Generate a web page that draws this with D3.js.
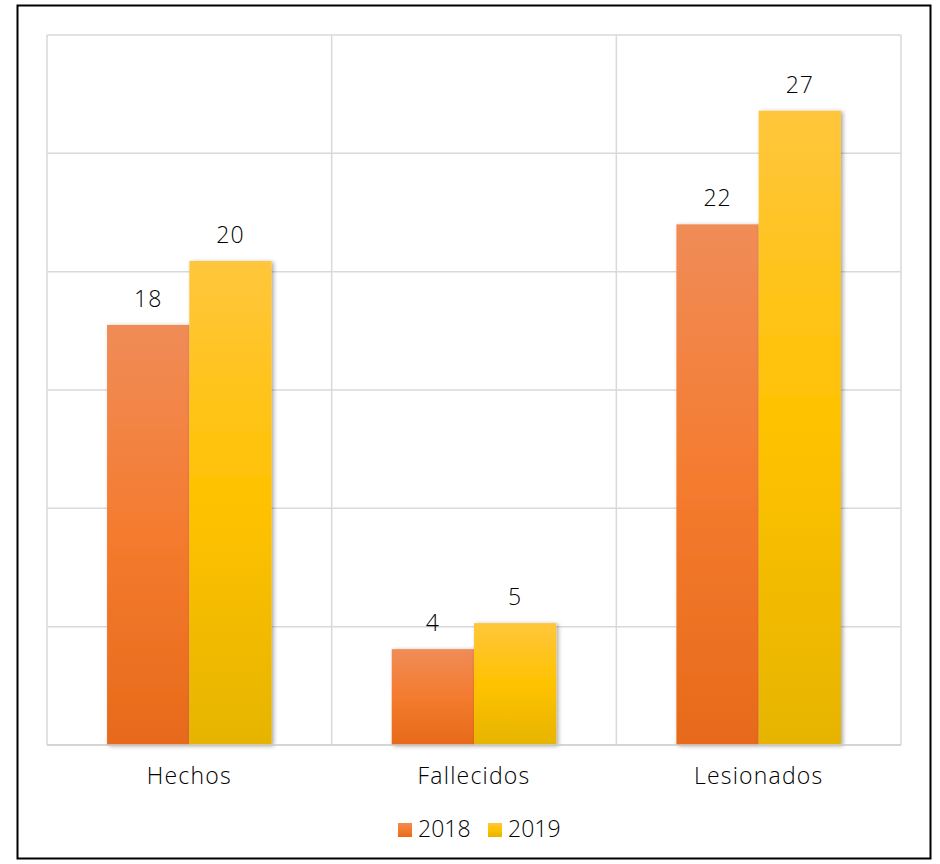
<!DOCTYPE html>
<html>
<head>
<meta charset="utf-8">
<script src="https://cdn.jsdelivr.net/npm/d3@7"></script>
<style>
  html, body { margin: 0; padding: 0; background: #fff; }
  svg { display: block; }
  text { font-family: "Open Sans", "DejaVu Sans", sans-serif; font-weight: 300; fill: #000; }
</style>
</head>
<body>
<svg id="chart" width="940" height="864"></svg>
<script>
const categories = ["Hechos", "Fallecidos", "Lesionados"];
const seriesNames = ["2018", "2019"];
const values2018 = [17.75, 4.05, 22.0];
const values2019 = [20.45, 5.15, 26.8];
const yTicks = [0, 5, 10, 15, 20, 25, 30];

const svg = d3.select("#chart");
const plot = { left: 47, right: 901, top: 35, bottom: 745 };
const FS = 23;

// outer border
svg.append("rect").attr("x", 17.5).attr("y", 5.5).attr("width", 913).attr("height", 853)
  .attr("fill", "#fff").attr("stroke", "#000").attr("stroke-width", 2);

const defs = svg.append("defs");
const gradSpec = {
  "2018": ["#F08C58", "#F47B2E", "#E76A1A"],
  "2019": ["#FFC63C", "#FFC200", "#E6B400"]
};
seriesNames.forEach(s => {
  const g = defs.append("linearGradient").attr("id", "g" + s)
    .attr("x1", 0).attr("y1", 0).attr("x2", 0).attr("y2", 1);
  g.append("stop").attr("offset", "0%").attr("stop-color", gradSpec[s][0]);
  g.append("stop").attr("offset", "50%").attr("stop-color", gradSpec[s][1]);
  g.append("stop").attr("offset", "100%").attr("stop-color", gradSpec[s][2]);
});
const f = defs.append("filter").attr("id", "shadow").attr("x", "-20%").attr("y", "-5%").attr("width", "150%").attr("height", "120%");
f.append("feDropShadow").attr("dx", 2).attr("dy", 1).attr("stdDeviation", 2)
  .attr("flood-color", "#000").attr("flood-opacity", 0.35);

const x = d3.scaleBand().domain(categories).range([plot.left, plot.right]).padding(0);
const xs = d3.scaleBand().domain(seriesNames).range([0, x.bandwidth()]).paddingInner(0).paddingOuter(0.73);
const y = d3.scaleLinear().domain([0, 30]).range([plot.bottom, plot.top]);

// horizontal gridlines
svg.append("g").selectAll("line").data(yTicks).join("line")
  .attr("x1", plot.left).attr("x2", plot.right)
  .attr("y1", d => y(d)).attr("y2", d => y(d))
  .attr("stroke", "#D9D9D9").attr("stroke-width", 1.5);

// vertical gridlines (category boundaries)
const vb = categories.map(c => x(c)).concat([plot.right]);
svg.append("g").selectAll("line").data(vb).join("line")
  .attr("x1", d => d).attr("x2", d => d)
  .attr("y1", plot.top).attr("y2", plot.bottom)
  .attr("stroke", "#D9D9D9").attr("stroke-width", 1.5);

const data = [];
categories.forEach((c, i) => {
  data.push({ cat: c, s: "2018", v: values2018[i] });
  data.push({ cat: c, s: "2019", v: values2019[i] });
});

svg.append("g").selectAll("rect").data(data).join("rect")
  .attr("x", d => x(d.cat) + xs(d.s))
  .attr("y", d => y(d.v))
  .attr("width", xs.bandwidth())
  .attr("height", d => y(0) - y(d.v))
  .attr("fill", d => "url(#g" + d.s + ")")
  .attr("filter", "url(#shadow)");

// axis baseline
svg.append("line").attr("x1", plot.left).attr("x2", plot.right)
  .attr("y1", y(0)).attr("y2", y(0)).attr("stroke", "#D0D0D0").attr("stroke-width", 1.5);

// data labels
const fmt = d3.format(".0f");
svg.append("g").selectAll("text").data(data).join("text")
  .attr("x", d => x(d.cat) + xs(d.s) + xs.bandwidth() / 2)
  .attr("y", d => y(d.v) - 18)
  .attr("text-anchor", "middle")
  .attr("font-size", FS)
  .attr("letter-spacing", 1)
  .text(d => fmt(d.v));

// category labels
const xAxis = d3.axisBottom(x).tickSize(0).tickPadding(0);
const ax = svg.append("g").attr("transform", `translate(0,${plot.bottom})`).call(xAxis);
ax.select(".domain").remove();
ax.selectAll("text").attr("font-size", FS).attr("dy", 0).attr("y", 39)
  .attr("letter-spacing", 1.2)
  .style("font-family", '"Open Sans", "DejaVu Sans", sans-serif')
  .style("font-weight", 300).attr("fill", "#000");

// legend
const legend = svg.append("g");
const legendX = [398, 488];
seriesNames.forEach((s, i) => {
  legend.append("rect").attr("x", legendX[i]).attr("y", 823).attr("width", 14).attr("height", 14)
    .attr("fill", "url(#g" + s + ")");
  legend.append("text").attr("x", legendX[i] + 20).attr("y", 837).attr("font-size", FS)
    .text(s);
});
</script>
</body>
</html>
